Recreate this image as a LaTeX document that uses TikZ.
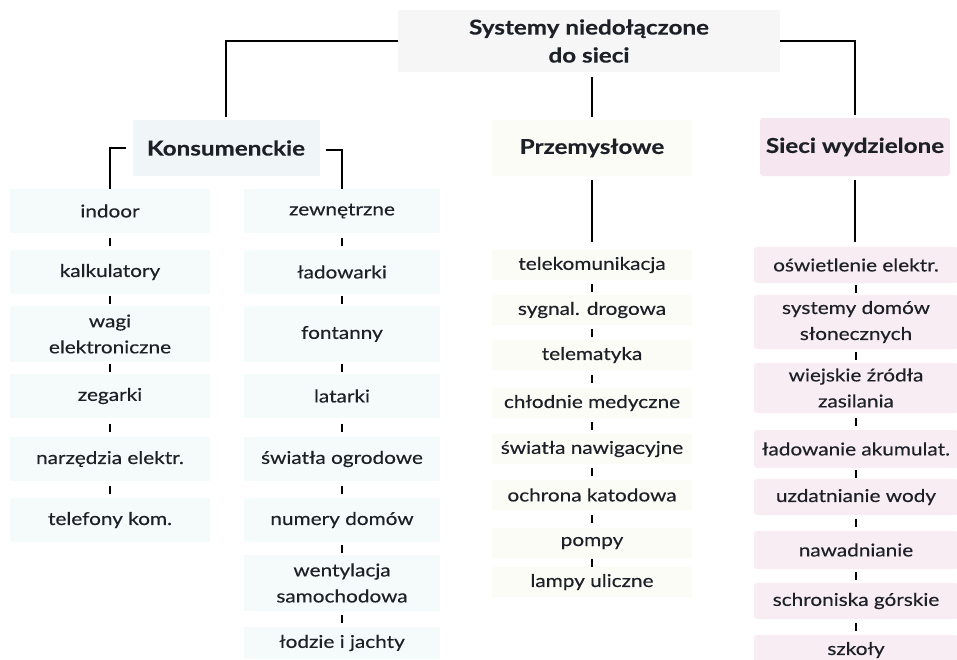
\documentclass[tikz,border=0pt]{standalone}
\usepackage{fontspec}
\setmainfont{Lato}[FakeStretch=1.18, FakeBold=0.35]
\usetikzlibrary{calc}
\definecolor{ink}{HTML}{1E2028}
\definecolor{titlebg}{HTML}{F6F6F6}
\definecolor{bluebg}{HTML}{F5FAFB}
\definecolor{bluehead}{HTML}{F0F6F8}
\definecolor{creambg}{HTML}{FCFCF7}
\definecolor{pinkbg}{HTML}{F8EDF3}
\definecolor{pinkhead}{HTML}{F5E6EF}
\tikzset{
  itemtext/.style={font=\fontsize{17.6}{26}\selectfont, text=ink, align=center, inner sep=0pt},
  headtext/.style={font=\bfseries\fontsize{20.5}{28}\selectfont, text=ink, align=center, inner sep=0pt},
  colA/.style={itemtext, fill=bluebg, minimum width=200pt, minimum height=44pt},
  colB/.style={itemtext, fill=bluebg, minimum width=196pt, minimum height=44pt},
  colC/.style={itemtext, fill=creambg, minimum width=200pt, minimum height=30pt},
  colD/.style={itemtext, fill=pinkbg, minimum width=204pt, minimum height=36pt, rounded corners=3pt},
  conn/.style={line width=2.6pt, draw=black},
  tickmark/.style={line width=2.4pt, draw=black}
}
\newcommand\tickbetween[2]{\draw[tickmark] ($(#1.south)!0.5!(#2.north)$) ++(0,-4) -- ++(0,8);}
\begin{document}
\begin{tikzpicture}[x=1pt,y=-1pt]
\useasboundingbox[fill=white] (0,0) rectangle (957,659);

% headers
\node[headtext, fill=titlebg, minimum width=382pt, minimum height=62pt] (title) at (589,41) {Systemy niedołączone\\do sieci};
\node[headtext, fill=bluehead, minimum width=187pt, minimum height=56pt] (kons) at (226,148) {Konsumenckie};
\node[headtext, fill=creambg, minimum width=200pt, minimum height=56pt] (prze) at (592,148) {Przemysłowe};
\node[headtext, fill=pinkhead, minimum width=190pt, minimum height=58pt, rounded corners=3pt] (sieci) at (855,147) {Sieci wydzielone};

% column 1
\node[colA] (indoor) at (110,211) {indoor};
\node[colA] (kalk) at (110,272) {kalkulatory};
\node[colA, minimum height=56pt] (wagi) at (110,334) {wagi\\elektroniczne};
\node[colA] (zeg) at (110,396) {zegarki};
\node[colA] (narz) at (110,459) {narzędzia elektr.};
\node[colA] (telk) at (110,520) {telefony kom.};

% column 2
\node[colB] (zew) at (342,211) {zewnętrzne};
\node[colB] (lad) at (342,272) {ładowarki};
\node[colB, minimum height=56pt] (font) at (342,334) {fontanny};
\node[colB] (lat) at (342,396) {latarki};
\node[colB] (swo) at (342,459) {światła ogrodowe};
\node[colB] (num) at (342,520) {numery domów};
\node[colB, minimum height=56pt] (went) at (342,583) {wentylacja\\samochodowa};
\node[colB, minimum height=32pt] (lodz) at (342,643) {łodzie i jachty};

% column 3
\node[colC] (tele) at (592,265) {telekomunikacja};
\node[colC] (syg) at (592,310) {sygnal. drogowa};
\node[colC] (telm) at (592,355) {telematyka};
\node[colC] (chl) at (592,403) {chłodnie medyczne};
\node[colC] (swn) at (592,449) {światła nawigacyjne};
\node[colC] (och) at (592,495) {ochrona katodowa};
\node[colC] (pom) at (592,543) {pompy};
\node[colC] (lamp) at (592,582) {lampy uliczne};

% column 4
\node[colD] (osw) at (856,265) {oświetlenie elektr.};
\node[colD, minimum height=54pt] (sys) at (856,322) {systemy domów\\słonecznych};
\node[colD, minimum height=50pt] (wiej) at (856,388) {wiejskie źródła\\zasilania};
\node[colD, minimum height=38pt] (akum) at (856,449) {ładowanie akumulat.};
\node[colD] (uzd) at (856,497) {uzdatnianie wody};
\node[colD, minimum height=38pt] (naw) at (856,550) {nawadnianie};
\node[colD] (schr) at (856,601) {schroniska górskie};
\node[colD, minimum height=30pt] (szk) at (856,650) {szkoły};

% main connectors
\draw[conn, shorten >=3pt] (title.west) -| (kons.north);
\draw[conn, shorten >=3pt] (title.east) -| (sieci.north);
\draw[conn, shorten <=5pt, shorten >=3pt] (prze.north |- title.south) -- (prze.north);
\draw[conn, shorten <=4pt, shorten >=8pt] (prze.south) -- (tele.north);
\draw[conn, shorten <=4pt, shorten >=5pt] (sieci.south) -- (sieci.south |- osw.north);
\draw[conn] ($(kons.west)+(-6,0)$) -| (indoor.north);
\draw[conn] ($(kons.east)+(6,2)$) -| (zew.north);

% ticks
\tickbetween{indoor}{kalk}
\tickbetween{kalk}{wagi}
\tickbetween{wagi}{zeg}
\tickbetween{zeg}{narz}
\tickbetween{narz}{telk}

\tickbetween{zew}{lad}
\tickbetween{lad}{font}
\tickbetween{font}{lat}
\tickbetween{lat}{swo}
\tickbetween{swo}{num}
\tickbetween{num}{went}
\tickbetween{went}{lodz}

\tickbetween{tele}{syg}
\tickbetween{syg}{telm}
\tickbetween{telm}{chl}
\tickbetween{chl}{swn}
\tickbetween{swn}{och}
\tickbetween{och}{pom}
\tickbetween{pom}{lamp}

\tickbetween{osw}{sys}
\tickbetween{sys}{wiej}
\tickbetween{wiej}{akum}
\tickbetween{akum}{uzd}
\tickbetween{uzd}{naw}
\tickbetween{naw}{schr}
\tickbetween{schr}{szk}
\end{tikzpicture}
\end{document}
